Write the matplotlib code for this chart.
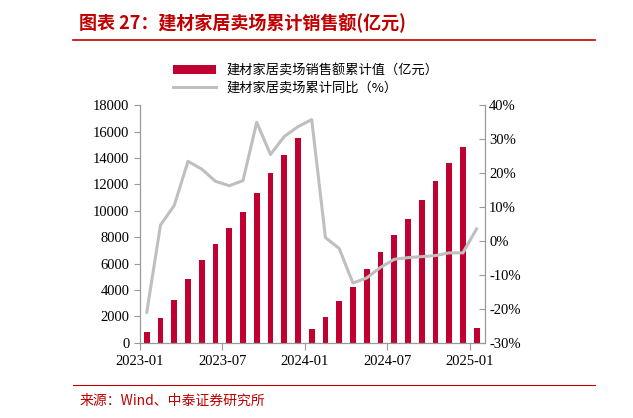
import matplotlib
matplotlib.use("Agg")
import matplotlib.pyplot as plt
from matplotlib.ticker import FuncFormatter

months = ["2023-%02d" % m for m in range(1, 13)] + ["2024-%02d" % m for m in range(1, 13)] + ["2025-01"]
sales = [780, 1890, 3220, 4830, 6240, 7500, 8710, 9920, 11380, 12860, 14200, 15490,
         1080, 1940, 3170, 4230, 5570, 6900, 8190, 9420, 10860, 12290, 13630, 14870, 1130]
yoy = [-21, 4.7, 10.5, 23.5, 21.2, 17.6, 16.3, 17.8, 35, 25.5, 30.8, 33.7,
       35.8, 1, -2.2, -12.4, -10.9, -7.8, -5.4, -4.9, -4.6, -4.3, -3.5, -3.5, 3.6]
tick_labels = ["2023-01", "2023-07", "2024-01", "2024-07", "2025-01"]

cjk = "Noto Sans CJK SC"
serif = "Liberation Serif"
fig = plt.figure(figsize=(6.33, 4.18), dpi=100)
ax = fig.add_axes([0.221, 0.18, 0.545, 0.568])
x = list(range(len(months)))
ax.bar(x, sales, width=0.42, color="#C00030", label="建材家居卖场销售额累计值（亿元）")
ax.set_ylim(0, 18000)
ax.set_yticks(range(0, 18001, 2000))
ax.set_xlim(-0.5, len(months) - 0.4)
ax.set_xticks([months.index(t) - 0.5 for t in tick_labels])
ax.set_xticklabels(tick_labels)
ax2 = ax.twinx()
ax2.plot(x, yoy, color="#BFBFBF", lw=2.2, label="建材家居卖场累计同比（%）")
ax2.set_ylim(-30, 40)
ax2.set_yticks(range(-30, 41, 10))
ax2.yaxis.set_major_formatter(FuncFormatter(lambda v, p: "%d%%" % v))
for a in (ax, ax2):
    a.spines["top"].set_visible(False)
    for s in ("left", "right", "bottom"):
        a.spines[s].set_color("#999999")
    a.tick_params(labelsize=10.5, color="#999999", length=4)
    for lab in a.get_xticklabels() + a.get_yticklabels():
        lab.set_fontfamily(serif)
ax.tick_params(axis="y", direction="out")
ax2.tick_params(axis="y", direction="in", pad=3)
ax.tick_params(axis="x", length=5)

h1, l1 = ax.get_legend_handles_labels()
h2, l2 = ax2.get_legend_handles_labels()
fig.legend(h1 + h2, l1 + l2, loc="upper left", bbox_to_anchor=(0.255, 0.875), frameon=False,
           prop={"family": cjk, "size": 9.5}, handlelength=3.2, labelspacing=0.3)

fig.text(0.125, 0.945, "图表 27：建材家居卖场累计销售额(亿元)", color="#C00000", fontsize=13,
         fontweight="bold", style="italic", fontfamily=cjk, va="center")
fig.add_artist(plt.Line2D([0.115, 0.94], [0.905, 0.905], color="#C00000", lw=1.2))
fig.add_artist(plt.Line2D([0.115, 0.94], [0.078, 0.078], color="#C00000", lw=0.8))
fig.text(0.125, 0.04, "来源：Wind、中泰证券研究所", color="#C00000", fontsize=10, fontfamily=cjk, va="center")
fig.savefig("out.png", dpi=100)
